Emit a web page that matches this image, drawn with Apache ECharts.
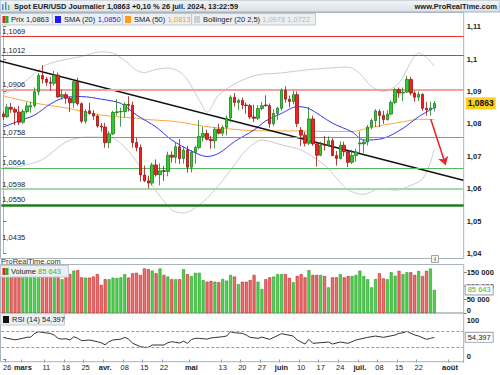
<!DOCTYPE html>
<html><head><meta charset="utf-8">
<script src="https://cdn.jsdelivr.net/npm/echarts@6/dist/echarts.min.js"></script>
<style>html,body{margin:0;padding:0;background:#fff}#c{width:500px;height:375px}</style>
</head><body><div id="c"></div>
<script>
// ---------------- DATA ----------------
const firstDay = '2024-02-23';
const dayCount = 118; // trading days on the time axis (111 with data + room to the right)

const opens = [1.0830,1.0822,1.0851,1.0845,1.0836,1.0805,1.0838,1.0852,1.0856,1.0899,1.0949,1.0938,1.0928,1.0925,1.0950,1.0884,1.0890,1.0879,1.0865,1.0930,1.0862,1.0808,1.0840,1.0832,1.0824,1.0793,1.0790,1.0742,1.0769,1.0835,1.0837,1.0838,1.0860,1.0857,1.0742,1.0727,1.0642,1.0624,1.0617,1.0673,1.0643,1.0655,1.0653,1.0703,1.0697,1.0729,1.0693,1.0719,1.0666,1.0712,1.0727,1.0761,1.0770,1.0752,1.0748,1.0783,1.0771,1.0789,1.0818,1.0882,1.0866,1.0872,1.0858,1.0856,1.0821,1.0817,1.0847,1.0858,1.0856,1.0800,1.0832,1.0848,1.0903,1.0876,1.0869,1.0890,1.0780,1.0765,1.0740,1.0815,1.0738,1.0703,1.0736,1.0734,1.0748,1.0702,1.0693,1.0734,1.0714,1.0681,1.0702,1.0738,1.0738,1.0744,1.0790,1.0810,1.0838,1.0826,1.0813,1.0830,1.0866,1.0906,1.0895,1.0898,1.0937,1.0895,1.0882,1.0891,1.0848,1.0843,1.0849];
const closes = [1.0822,1.0851,1.0845,1.0836,1.0805,1.0838,1.0855,1.0856,1.0899,1.0949,1.0938,1.0928,1.0925,1.0950,1.0883,1.0890,1.0879,1.0865,1.0930,1.0862,1.0808,1.0838,1.0832,1.0824,1.0793,1.0790,1.0742,1.0769,1.0835,1.0837,1.0838,1.0860,1.0857,1.0742,1.0727,1.0642,1.0624,1.0617,1.0673,1.0643,1.0655,1.0653,1.0703,1.0697,1.0729,1.0693,1.0719,1.0666,1.0712,1.0727,1.0761,1.0770,1.0752,1.0748,1.0783,1.0771,1.0789,1.0818,1.0882,1.0866,1.0872,1.0858,1.0856,1.0821,1.0817,1.0847,1.0856,1.0856,1.0800,1.0832,1.0848,1.0903,1.0876,1.0869,1.0890,1.0801,1.0765,1.0740,1.0815,1.0738,1.0703,1.0734,1.0734,1.0748,1.0702,1.0693,1.0734,1.0714,1.0681,1.0702,1.0713,1.0741,1.0744,1.0790,1.0810,1.0840,1.0826,1.0813,1.0830,1.0866,1.0906,1.0895,1.0898,1.0937,1.0895,1.0882,1.0891,1.0848,1.0843,1.0849,1.0863];
const lows = [1.0812,1.0818,1.0834,1.0796,1.0796,1.0800,1.0832,1.0834,1.0850,1.0888,1.0924,1.0917,1.0902,1.0918,1.0880,1.0875,1.0862,1.0836,1.0850,1.0856,1.0802,1.0800,1.0828,1.0812,1.0788,1.0776,1.0726,1.0725,1.0765,1.0825,1.0791,1.0819,1.0838,1.0727,1.0715,1.0622,1.0620,1.0601,1.0610,1.0637,1.0610,1.0624,1.0638,1.0680,1.0678,1.0676,1.0677,1.0649,1.0650,1.0676,1.0721,1.0745,1.0749,1.0723,1.0724,1.0767,1.0762,1.0764,1.0805,1.0853,1.0842,1.0845,1.0831,1.0815,1.0805,1.0811,1.0842,1.0853,1.0788,1.0794,1.0812,1.0841,1.0865,1.0850,1.0860,1.0790,1.0731,1.0730,1.0734,1.0732,1.0668,1.0700,1.0717,1.0730,1.0700,1.0671,1.0690,1.0700,1.0666,1.0676,1.0683,1.0710,1.0710,1.0733,1.0783,1.0790,1.0790,1.0800,1.0810,1.0827,1.0860,1.0880,1.0870,1.0895,1.0888,1.0868,1.0870,1.0840,1.0825,1.0826,1.0838];
const highs = [1.0838,1.0862,1.0864,1.0851,1.0855,1.0845,1.0867,1.0868,1.0912,1.0957,1.0981,1.0945,1.0945,1.0963,1.0958,1.0906,1.0897,1.0883,1.0935,1.0942,1.0866,1.0845,1.0865,1.0842,1.0828,1.0802,1.0803,1.0777,1.0840,1.0876,1.0849,1.0866,1.0885,1.0868,1.0756,1.0736,1.0671,1.0640,1.0680,1.0690,1.0678,1.0670,1.0714,1.0715,1.0742,1.0753,1.0730,1.0732,1.0719,1.0732,1.0812,1.0791,1.0782,1.0762,1.0790,1.0800,1.0796,1.0826,1.0888,1.0895,1.0878,1.0881,1.0866,1.0862,1.0859,1.0858,1.0868,1.0888,1.0863,1.0845,1.0852,1.0909,1.0916,1.0887,1.0902,1.0900,1.0790,1.0775,1.0852,1.0825,1.0745,1.0745,1.0762,1.0761,1.0755,1.0716,1.0746,1.0745,1.0717,1.0720,1.0723,1.0776,1.0752,1.0796,1.0816,1.0845,1.0845,1.0840,1.0842,1.0872,1.0910,1.0912,1.0912,1.0948,1.0945,1.0902,1.0900,1.0894,1.0868,1.0868,1.0870];

const volumes = [140000,138000,145000,150000,160000,150000,140000,148000,160000,165000,170000,140000,150000,145000,160000,125000,132000,144000,157000,159000,132000,131000,131000,135000,144000,104000,125000,125000,131000,130000,132000,144000,131000,147000,149000,141000,165000,162000,157000,147000,165000,141000,135000,125000,125000,125000,162000,144000,137000,149000,149000,122000,116000,119000,116000,114000,126000,120000,141000,135000,107000,116000,116000,122000,141000,116000,89000,125000,132000,135000,144000,144000,144000,130000,114000,137000,144000,132000,159000,141000,141000,141000,137000,95000,132000,132000,144000,132000,137000,137000,141000,157000,137000,125000,95000,126000,147000,128000,125000,151000,138000,156000,144000,151000,151000,141000,156000,137000,156000,165000,85643];

// indicator lines: [trading-day index, value]
const sma20 = [[0,1.0790],[4,1.0809],[8,1.0827],[12,1.0861],[16,1.0882],[20,1.0884],[25,1.0876],[30,1.0863],[34,1.0827],[39,1.0790],[43,1.0750],[48,1.0716],[52,1.0699],[55,1.0709],[59,1.0745],[64,1.0781],[67,1.0809],[71,1.0832],[75,1.0853],[78,1.0847],[84,1.0802],[89,1.0775],[92,1.0750],[97,1.0755],[102,1.0786],[106,1.0822],[110,1.0850]];
const sma50 = [[0,1.0886],[8,1.0864],[16,1.0849],[25,1.0827],[33,1.0818],[37,1.0813],[44,1.0807],[52,1.0791],[61,1.0781],[67,1.0778],[75,1.0778],[84,1.0776],[89,1.0776],[93,1.0786],[97,1.0796],[102,1.0806],[106,1.0814],[110,1.0813]];
const bbUpper = [[0,1.0892],[4,1.0915],[8,1.0955],[11,1.0982],[15,1.0996],[20,1.1008],[25,1.1022],[28,1.1018],[31,1.0995],[34,1.0965],[36,1.0958],[39,1.0968],[42,1.0972],[46,1.0951],[50,1.0873],[52,1.0836],[55,1.0889],[60,1.0929],[65,1.0951],[71,1.0957],[77,1.0966],[83,1.0972],[88,1.0975],[91,1.0955],[94,1.0915],[97,1.0900],[101,1.0926],[104,1.0990],[106,1.1019],[108,1.1005],[110,1.0978]];
const bbLower = [[0,1.0665],[4,1.0668],[10,1.0690],[16,1.0744],[21,1.0759],[27,1.0759],[31,1.0728],[35,1.0667],[37,1.0627],[43,1.0534],[46,1.0525],[50,1.0549],[54,1.0596],[58,1.0657],[62,1.0719],[66,1.0750],[71,1.0735],[76,1.0719],[82,1.0673],[85,1.0633],[88,1.0596],[92,1.0582],[96,1.0600],[100,1.0595],[104,1.0610],[107,1.0630],[109,1.0680],[110,1.0722]];
const rsi = [[0,54.4],[1,52],[3,48.5],[4,50],[6,54.4],[7,55],[8,64],[9,68.3],[10,66.5],[12,64],[13,60],[14,52],[15,50],[16,51],[17,48],[18,56],[19,52],[20,46.2],[22,47.9],[24,43.8],[25,41],[26,36],[27,43.8],[28,48],[30,50],[31,54.4],[32,50],[33,40],[35,31.5],[36,30],[37,29.9],[38,35.6],[39,35.6],[41,35.6],[42,41.3],[43,43.8],[44,42],[45,40.5],[46,45],[47,39.7],[48,49],[49,52],[50,52],[52,50],[53,53],[54,54],[56,56],[57,57.7],[58,68.3],[59,65.8],[61,64.2],[62,60.1],[63,54.4],[65,52],[66,55],[68,49.5],[71,63.4],[74,57.7],[75,47.9],[77,38],[78,49.5],[79,39.7],[81,41.3],[83,42.9],[84,38],[86,42.9],[88,39.7],[90,47.9],[93,54.4],[95,57.7],[97,54.4],[100,60.1],[101,64.2],[102,65.8],[103,69.1],[105,60.1],[106,57.7],[108,49.5],[109,52],[110,54.397]];

const levels = [1.1069, 1.1012, 1.0906, 1.0758, 1.0664, 1.0598, 1.0550, 1.0435];
const trendLine = [[-0.85, 1.0994], [117.4, 1.0626]];
const arrowFrom = [109.1, 1.0814];
const arrowTo = [112.9, 1.0673];
const rsiLevels = [30, 70];
const lastPrice = 1.0863;
const lastVolume = 85643;
const lastRsi = 54.397;

const priceTicks = {min: 1.04, max: 1.11, step: 0.01};
const volumeTicks = {min: 0, step: 50000};
const rsiTicks = {min: 0, max: 100, step: 100};
const timeLabels = {'2024-02-26':'26','2024-03-01':'mars','2024-03-11':'11','2024-03-18':'18','2024-03-25':'25','2024-04-01':'avr.','2024-04-08':'08','2024-04-15':'15','2024-04-22':'22','2024-05-01':'mai','2024-05-13':'13','2024-05-20':'20','2024-05-27':'27','2024-06-03':'juin','2024-06-10':'10','2024-06-17':'17','2024-06-24':'24','2024-07-01':'juil.','2024-07-08':'08','2024-07-15':'15','2024-07-22':'22','2024-08-01':'août'};
const monthLabels = ['mars','avr.','mai','juin','juil.','août'];

const titleText = 'Spot EUR/USD Journalier 1,0863 +0,10 % 26 juil. 2024, 13:22:59';

// ---------------- BUILD ----------------
const categories = [];
(function(){ const d = new Date(firstDay + 'T00:00:00Z');
  while (categories.length < dayCount) { const w = d.getUTCDay(); if (w !== 0 && w !== 6) categories.push(d.toISOString().slice(0,10)); d.setUTCDate(d.getUTCDate()+1); } })();

const fmtP = v => String(+(+v).toFixed(4)).replace('.', ',');
const fmt4 = v => (+v).toFixed(4).replace('.', ',');
const fmtV = v => String(Math.round(v)).replace(/\B(?=(\d{3})+(?!\d))/g, ' ');
const FONT = '"Liberation Sans", Arial, sans-serif';
const FS = 7.5;
const NOLINE = {color:'transparent', width:0, type:'solid'};

const levelStyle = [
  {c:'#e8332e', w:1}, {c:'#e8332e', w:1}, {c:'#f3a0a0', w:2}, {c:'#5db75d', w:1},
  {c:'#5db75d', w:1}, {c:'#a6d8a6', w:2}, {c:'#1e7d1e', w:2.5}, {c:'transparent', w:0}
];

const candleData = opens.map((o,i) => [o, closes[i], lows[i], highs[i]]);
const upBar = {color:'#4fd04f', borderColor:'#279a27', borderWidth:0.6};
const dnBar = {color:'#e87070', borderColor:'#c41c1c', borderWidth:0.6};
const volData = volumes.map((v,i) => ({value: v, itemStyle: closes[i] >= opens[i] ? upBar : dnBar}));

const L = 1.34, R = 36.3;
const xVal = {type:'value', min:-0.5, max:dayCount-0.5, show:false};
const isTick = (idx, val) => timeLabels[val] !== undefined;

const chart = echarts.init(document.getElementById('c'), null, {renderer:'svg'});

const txt = (x, y, text, o) => ({type:'text', x, y, z:100, silent:true,
  style: Object.assign({text, fill:'#222', font:FS + 'px ' + FONT, verticalAlign:'middle'}, o || {})});
const rect = (x, y, w, h, fill, stroke, z) => ({type:'rect', z: z == null ? 90 : z, silent:true,
  shape:{x, y, width:w, height:h}, style:{fill: fill || 'none', stroke: stroke || 'none', lineWidth:1}});

const richBox = (x, y, label, value, valColor) => ({type:'text', x, y, z:101, silent:true,
  style:{text:'{a|' + label + '} {b|' + value + '}', verticalAlign:'middle', font:FS + 'px ' + FONT,
    rich:{a:{fill:'#222', font:FS + 'px ' + FONT}, b:{fill:valColor, font:FS + 'px ' + FONT}}}});

const graphics = [
  // title bar
  {type:'rect', z:90, silent:true, shape:{x:0,y:0,width:500,height:12},
   style:{fill:new echarts.graphic.LinearGradient(0,0,0,1,[{offset:0,color:'#f3f6f8'},{offset:1,color:'#d9e0e6'}]), stroke:'#a9b4bd', lineWidth:1}},
  rect(2, 4, 1.5, 6, '#4a90d9', null, 95), rect(5, 2, 1.5, 8, '#4a90d9', null, 95), rect(8, 5, 1.5, 5, '#5cc05c', null, 95),
  txt(14, 6.5, titleText, {font:'bold 7.5px ' + FONT, fill:'#1a1a1a'}),
  txt(497, 6.5, 'www.ProRealTime.com', {font:'bold 7.5px ' + FONT, fill:'#1a1a1a', align:'right'}),
  // panel frames
  rect(0.5, 12.5, 463.2, 246, null, '#a8b3bc', 1),
  rect(0.5, 264.5, 463.2, 48.5, null, '#a8b3bc', 1),
  rect(0.5, 313, 463.2, 48.7, null, '#a8b3bc', 1),
  // legend row
  rect(0.5, 13.5, 52, 11.5, '#eceff2', '#c3c9ce'),
  rect(2.5, 16, 3, 7, '#d42a2a', null, 95), rect(5.5, 16, 3, 7, '#2eae2e', null, 95),
  richBox(11, 19.5, 'Prix', fmt4(closes[closes.length-1]), '#222'),
  rect(52.5, 13.5, 70, 11.5, '#eceff2', '#c3c9ce'),
  rect(55, 16, 6, 7, '#1b1bf2', null, 95),
  richBox(64, 19.5, 'SMA (20)', fmt4(sma20[sma20.length-1][1]), '#1b1bf2'),
  rect(122.5, 13.5, 69, 11.5, '#eceff2', '#c3c9ce'),
  rect(125, 16, 6, 7, '#ff9a1f', null, 95),
  richBox(134, 19.5, 'SMA (50)', fmt4(sma50[sma50.length-1][1]), '#ff9a1f'),
  rect(191.5, 13.5, 124, 11.5, '#eceff2', '#c3c9ce'),
  rect(194, 16, 6, 7, '#cfcfcf', null, 95),
  richBox(203, 19.5, 'Bollinger (20 2,5)', fmt4(bbUpper[bbUpper.length-1][1]) + ' ' + fmt4(bbLower[bbLower.length-1][1]), '#b9b9b9'),
  // volume header
  txt(1, 261, 'ProRealTime.com', {fill:'#333'}),
  rect(431.5, 255.5, 7, 7, '#f4f4f4', '#9aa4ad', 95),
  txt(435, 259.3, 'i', {font:'bold 6px ' + FONT, fill:'#555', align:'center'}),
  rect(0.5, 265.5, 68, 11.5, '#eceff2', '#c3c9ce'),
  rect(2.5, 268, 3, 7, '#d42a2a', null, 95), rect(5.5, 268, 3, 7, '#2eae2e', null, 95),
  richBox(11, 271.5, 'Volume', fmtV(lastVolume), '#35b835'),
  // RSI header
  rect(0.5, 313.5, 64, 11.5, '#eceff2', '#c3c9ce'),
  rect(3, 316, 6, 7, '#111', null, 95),
  richBox(12, 319.5, 'RSI (14)', fmtP(lastRsi), '#222')
];

const axisLabelR = {fontSize:FS, fontWeight:'bold', color:'#222', fontFamily:FONT, margin:3};
const edgeRich = {
  up:{fontSize:FS, fontWeight:'bold', color:'#222', fontFamily:FONT, padding:[0,0,6,0]},
  dn:{fontSize:FS, fontWeight:'bold', color:'#222', fontFamily:FONT, padding:[3,0,0,0]}
};
const tag = (text, color) => ({show:true, position:'end', formatter:text, color:color, fontSize:FS, fontFamily:FONT,
  backgroundColor:'#fff', borderColor:'#9aa4ad', borderWidth:1, padding:[1,2,0,2], distance:2});

const option = {
  animation:false,
  textStyle:{fontFamily:FONT},
  grid:[
    {left:L, right:R, top:26.6, height:226.8, show:false},
    {left:L, right:R, top:265, height:48, show:false},
    {left:L, right:R, top:318.8, height:40.7, show:false}
  ],
  xAxis:[
    {type:'category', gridIndex:0, data:categories, show:false, boundaryGap:true},
    Object.assign({gridIndex:0}, xVal),
    {type:'category', gridIndex:1, data:categories, show:false, boundaryGap:true},
    {type:'category', gridIndex:2, data:categories, boundaryGap:true, position:'bottom',
      axisLine:{show:false},
      axisTick:{show:true, interval:isTick, length:3, lineStyle:{color:'#8a96a0'}},
      axisLabel:{interval:isTick, formatter:v => monthLabels.includes(timeLabels[v]) ? '{m|' + timeLabels[v] + '}' : (timeLabels[v] || ''),
        fontSize:FS, color:'#222', margin:4, fontFamily:FONT, rich:{m:{fontSize:FS, fontWeight:'bold', color:'#222', fontFamily:FONT}}}},
    Object.assign({gridIndex:2}, xVal)
  ],
  yAxis:[
    {type:'value', gridIndex:0, position:'right', min:priceTicks.min, max:priceTicks.max, interval:priceTicks.step,
      axisLine:{show:true, lineStyle:{color:'#a8b3bc'}}, axisTick:{show:true, length:3, lineStyle:{color:'#777'}},
      splitLine:{show:false}, axisLabel:Object.assign({formatter:fmtP}, axisLabelR)},
    {type:'value', gridIndex:1, position:'right', min:volumeTicks.min, max:177800, interval:volumeTicks.step,
      axisLine:{show:false}, axisTick:{show:true, length:3, lineStyle:{color:'#777'}},
      splitLine:{show:false}, axisLabel:Object.assign({formatter:v => v === 0 ? '{up|0}' : fmtV(v), showMaxLabel:false, rich:edgeRich}, axisLabelR)},
    {type:'value', gridIndex:2, position:'right', min:rsiTicks.min, max:rsiTicks.max, interval:rsiTicks.step,
      axisLine:{show:false}, axisTick:{show:true, length:3, lineStyle:{color:'#777'}},
      splitLine:{show:false}, axisLabel:Object.assign({formatter:v => v === 0 ? '{up|0}' : '{dn|' + v + '}', rich:edgeRich}, axisLabelR)}
  ],
  graphic:graphics,
  series:[
    {type:'line', name:'BBu', xAxisIndex:1, yAxisIndex:0, data:bbUpper, symbol:'none', smooth:0.3, silent:true, z:2, lineStyle:{color:'#cccccc', width:1},
      // horizontal levels + last price tag
      markLine:{silent:true, symbol:'none', animation:false, precision:6,
        data: levels.map((v,i) => ({yAxis:v, lineStyle:{color:levelStyle[i].c, width:levelStyle[i].w, type:'solid'},
          label:{show:true, position:'insideStartTop', formatter:fmt4(v), color:'#222', fontSize:FS, fontFamily:FONT, distance:[1,1]}}))
          .concat([{yAxis:lastPrice, lineStyle:NOLINE, label:{show:true, position:'end', formatter:fmtP(lastPrice),
            backgroundColor:'#ffcf1a', color:'#111', fontWeight:'bold', fontSize:8.5, fontFamily:FONT, padding:[2,2,1,2], distance:2}}])}},
    {type:'line', name:'BBl', xAxisIndex:1, yAxisIndex:0, data:bbLower, symbol:'none', smooth:0.3, silent:true, z:2, lineStyle:{color:'#cccccc', width:1}},
    {type:'line', name:'SMA50', xAxisIndex:1, yAxisIndex:0, data:sma50, symbol:'none', smooth:0.3, silent:true, z:3, lineStyle:{color:'#ffa640', width:1}},
    {type:'line', name:'SMA20', xAxisIndex:1, yAxisIndex:0, data:sma20, symbol:'none', smooth:0.3, silent:true, z:3, lineStyle:{color:'#3535f0', width:1}},
    {type:'line', name:'trend', xAxisIndex:1, yAxisIndex:0, data:trendLine, symbol:'none', silent:true, z:4, lineStyle:{color:'#111', width:1.5},
      markLine:{silent:true, symbol:['none','arrow'], symbolSize:8, animation:false, precision:6, z:6,
        lineStyle:{color:'#ee2222', width:1.5, type:'solid'}, label:{show:false},
        data:[[{coord:arrowFrom}, {coord:arrowTo}]]}},
    {type:'candlestick', xAxisIndex:0, yAxisIndex:0, data:candleData, barWidth:3, z:5, silent:true,
      itemStyle:{color:'#2fcc2f', color0:'#ee2222', borderColor:'#1d7d1d', borderColor0:'#9c1212', borderWidth:0.8}},
    // volume
    {type:'bar', xAxisIndex:2, yAxisIndex:1, data:volData, barWidth:3, silent:true,
      markLine:{silent:true, symbol:'none', animation:false, precision:6, z:10,
        data:[{yAxis:lastVolume, lineStyle:NOLINE, label:tag(fmtV(lastVolume), '#35b835')}]}},
    // RSI
    {type:'line', xAxisIndex:4, yAxisIndex:2, data:rsi, symbol:'none', silent:true, lineStyle:{color:'#333', width:1},
      markLine:{silent:true, symbol:'none', animation:false, precision:6,
        data: rsiLevels.map(v => ({yAxis:v, lineStyle:{color:'#9a9a9a', width:1, type:[3,2]}, label:{show:false}}))
          .concat([{yAxis:lastRsi, lineStyle:NOLINE, label:tag(fmtP(lastRsi), '#222')}])}}
  ]
};
chart.setOption(option);
</script></body></html>
